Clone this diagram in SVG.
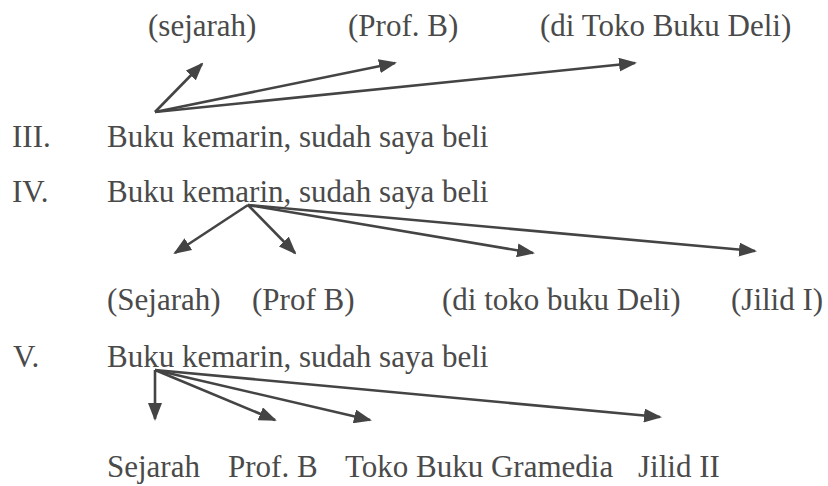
<svg xmlns="http://www.w3.org/2000/svg" width="828" height="486" viewBox="0 0 828 486" font-family="Liberation Serif, Tinos, Times New Roman, DejaVu Serif, serif">
<defs>
<marker id="ah" markerUnits="userSpaceOnUse" markerWidth="18" markerHeight="14" viewBox="0 0 18 14" refX="16" refY="7" orient="auto">
<path d="M0,0 L18,7 L0,14 z" fill="#444"/>
</marker>
<style>
text{font-family:'Liberation Serif',Tinos,'Times New Roman','DejaVu Serif',serif;font-size:31px;fill:#4a4a4a}
.c line{stroke:#444;stroke-width:2.6;marker-end:url(#ah)}
</style>
</defs>
<rect width="828" height="486" fill="#fff"/>
<g id="row1-labels">
<text x="148" y="36">(sejarah)</text>
<text x="348" y="36">(Prof. B)</text>
<text x="540" y="36">(di Toko Buku Deli)</text>
</g>
<g id="row3"><text x="12" y="147">III.</text><text x="107" y="147">Buku kemarin, sudah saya beli</text></g>
<g id="row4"><text x="12" y="202">IV.</text><text x="107" y="202">Buku kemarin, sudah saya beli</text></g>
<g id="row4-labels">
<text x="107" y="310">(Sejarah)</text>
<text x="252" y="310">(Prof B)</text>
<text x="442" y="310">(di toko buku Deli)</text>
<text x="731" y="310">(Jilid I)</text>
</g>
<g id="row5"><text x="13" y="367">V.</text><text x="107" y="367">Buku kemarin, sudah saya beli</text></g>
<g id="row5-labels">
<text x="107" y="477">Sejarah</text>
<text x="228" y="477">Prof. B</text>
<text x="345" y="477">Toko Buku Gramedia</text>
<text x="638" y="477">Jilid II</text>
</g>
<g id="connectors" class="c">
<line x1="155" y1="112" x2="202" y2="64"/>
<line x1="155" y1="112" x2="395" y2="63"/>
<line x1="155" y1="112" x2="635" y2="63"/>
<line x1="248" y1="205" x2="175" y2="253"/>
<line x1="248" y1="205" x2="295" y2="253"/>
<line x1="248" y1="205" x2="533" y2="253"/>
<line x1="248" y1="205" x2="755" y2="251"/>
<line x1="155" y1="370" x2="155" y2="419"/>
<line x1="155" y1="370" x2="275" y2="420"/>
<line x1="155" y1="370" x2="370" y2="420"/>
<line x1="155" y1="370" x2="660" y2="417"/>
</g>
</svg>
